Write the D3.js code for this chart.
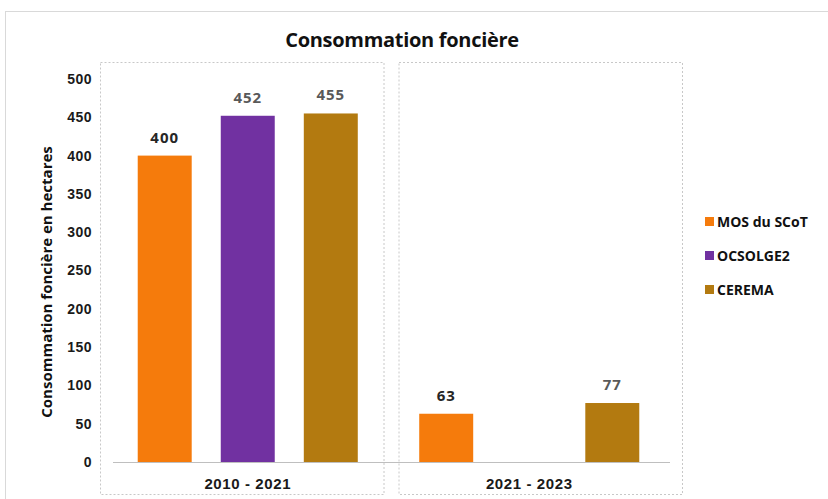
<!DOCTYPE html>
<html>
<head>
<meta charset="utf-8">
<script src="https://cdn.jsdelivr.net/npm/d3@7"></script>
<style>
  body { margin: 0; background: #fff; }
  svg { font-family: "Open Sans", "Noto Sans", sans-serif; }
</style>
</head>
<body>
<div id="chart"></div>
<script>
// periods on the x axis
var periods = ['2010 - 2021', '2021 - 2023']
// sources (series)
var sources = ['MOS du SCoT', 'OCSOLGE2', 'CEREMA']
var mosValues = [400, 63]
var ocsValues = [452, null]
var ceremaValues = [455, 77]
var yTicks = [0, 50, 100, 150, 200, 250, 300, 350, 400, 450, 500]

var colors = ['#f57b0c', '#7131a1', '#b37a10']
var labelColors = ['#262626', '#595959', '#595959']

var width = 828, height = 499

var svg = d3.select('#chart').append('svg')
    .attr('width', width)
    .attr('height', height)

// outer frame
svg.append('rect')
    .attr('x', 5.5).attr('y', 11.5)
    .attr('width', 840).attr('height', 500)
    .attr('fill', 'none')
    .attr('stroke', '#d9d9d9')

var x0 = d3.scaleBand().domain(periods).range([107, 670])
var x1 = d3.scaleBand().domain(sources).range([0, x0.bandwidth()]).paddingInner(0.35).paddingOuter(0.37)
var y = d3.scaleLinear().domain([0, 500]).range([462, 79])
var color = d3.scaleOrdinal().domain(sources).range(colors)

// panel boxes (dashed)
svg.selectAll('.panel')
    .data(periods)
    .enter().append('rect')
    .attr('class', 'panel')
    .attr('x', (d, i) => x0(d) - 7 + i * 17 + 0.5)
    .attr('y', 62.5)
    .attr('width', x0.bandwidth() + 2)
    .attr('height', 432)
    .attr('fill', 'none')
    .attr('stroke', '#c8c8c8')
    .attr('stroke-dasharray', '2,2')

// y axis
var yAxis = svg.append('g')
    .attr('transform', 'translate(99,0)')
    .call(d3.axisLeft(y).tickValues(yTicks).tickSize(0).tickPadding(7))
yAxis.select('.domain').remove()
yAxis.selectAll('text')
    .style('font-size', '14px')
    .style('font-weight', 'bold')
    .style('letter-spacing', '0.5px')
    .style('fill', '#1a1a1a')

// baseline
svg.append('line')
    .attr('x1', 113).attr('x2', 670)
    .attr('y1', y(0) + 0.5).attr('y2', y(0) + 0.5)
    .attr('stroke', '#bfbfbf')

// x axis labels
var xAxis = svg.append('g')
    .attr('transform', 'translate(0,' + y(0) + ')')
    .call(d3.axisBottom(x0).tickSize(0).tickPadding(16))
xAxis.select('.domain').remove()
xAxis.selectAll('text')
    .style('font-size', '15px')
    .style('font-weight', 'bold')
    .style('letter-spacing', '0.6px')
    .style('fill', '#1a1a1a')

// build rows
var rows = periods.map((p, i) => ({
    period: p,
    values: [
        {src: sources[0], value: mosValues[i], k: 0},
        {src: sources[1], value: ocsValues[i], k: 1},
        {src: sources[2], value: ceremaValues[i], k: 2}
    ].filter(v => v.value != null)
}))

var group = svg.selectAll('.grp')
    .data(rows)
    .enter().append('g')
    .attr('class', 'grp')
    .attr('transform', d => 'translate(' + x0(d.period) + ',0)')

group.selectAll('rect')
    .data(d => d.values)
    .enter().append('rect')
    .attr('x', d => x1(d.src))
    .attr('y', d => y(d.value))
    .attr('width', x1.bandwidth())
    .attr('height', d => y(0) - y(d.value))
    .attr('fill', d => color(d.src))

group.selectAll('.val')
    .data(d => d.values)
    .enter().append('text')
    .attr('class', 'val')
    .attr('x', d => x1(d.src) + x1.bandwidth() / 2)
    .attr('y', d => y(d.value) - 13)
    .attr('text-anchor', 'middle')
    .style('font-size', '15px')
    .style('font-weight', 'bold')
    .style('letter-spacing', '1px')
    .style('fill', d => labelColors[d.k])
    .text(d => d.value)

// title
svg.append('text')
    .attr('x', 402).attr('y', 47)
    .attr('text-anchor', 'middle')
    .style('font-size', '20px')
    .style('font-weight', 'bold')
    .style('fill', '#111')
    .style('letter-spacing', '-0.3px')
    .text('Consommation foncière')

// y axis title
svg.append('text')
    .attr('transform', 'translate(52,282) rotate(-90)')
    .attr('text-anchor', 'middle')
    .style('font-size', '15px')
    .style('font-weight', 'bold')
    .style('fill', '#111')
    .text('Consommation foncière en hectares')

// legend
var legend = svg.selectAll('.legend')
    .data(sources)
    .enter().append('g')
    .attr('class', 'legend')
    .attr('transform', (d, i) => 'translate(705,' + (222 + i * 34) + ')')

legend.append('rect')
    .attr('x', 0).attr('y', -5)
    .attr('width', 9).attr('height', 9)
    .attr('fill', d => color(d))

legend.append('text')
    .attr('x', 12).attr('y', 5)
    .style('font-size', '14px')
    .style('font-weight', 'bold')
    .style('fill', '#111')
    .text(d => d)
</script>
</body>
</html>
